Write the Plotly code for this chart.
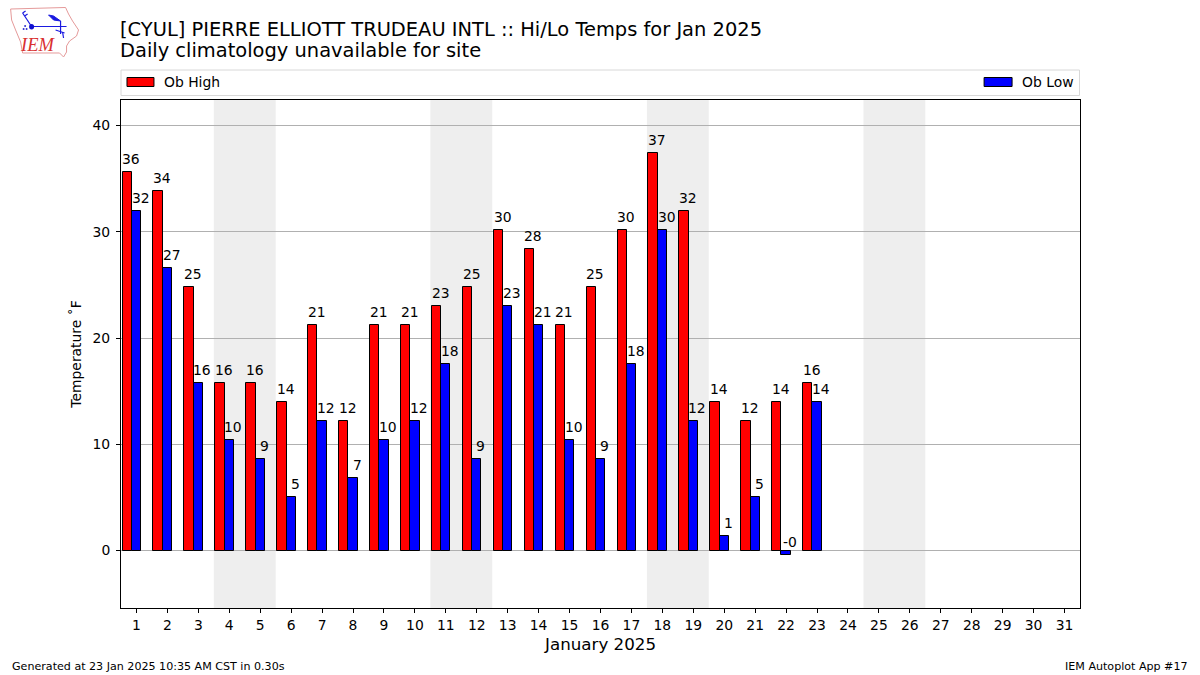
import plotly.graph_objects as go

days = list(range(1, 24))
ob_high = [35.6, 33.8, 24.8, 15.8, 15.8, 14.0, 21.2, 12.2, 21.2, 21.2, 23.0, 24.8,
           30.2, 28.4, 21.2, 24.8, 30.2, 37.4, 32.0, 14.0, 12.2, 14.0, 15.8]
ob_low = [32.0, 26.6, 15.8, 10.4, 8.6, 5.0, 12.2, 6.8, 10.4, 12.2, 17.6, 8.6,
          23.0, 21.2, 10.4, 8.6, 17.6, 30.2, 12.2, 1.4, 5.0, -0.4, 14.0]
high_labels = ["36", "34", "25", "16", "16", "14", "21", "12", "21", "21", "23", "25",
               "30", "28", "21", "25", "30", "37", "32", "14", "12", "14", "16"]
low_labels = ["32", "27", "16", "10", "9", "5", "12", "7", "10", "12", "18", "9",
              "23", "21", "10", "9", "18", "30", "12", "1", "5", "-0", "14"]
weekends = [(3.5, 5.5), (10.5, 12.5), (17.5, 19.5), (24.5, 26.5)]
all_days = list(range(1, 32))

W, H = 1200, 675
L, R, T, B = 120.5, 1080.5, 100, 608
FONT = "DejaVu Sans"
BAR_W = 0.3


def py(y):
    return (B - y) / (B - T)


def fx(x):
    return (x - L) / (R - L)


def path(points, close=False):
    s = "M " + " L ".join(f"{fx(x):.5f},{py(y):.5f}" for x, y in points)
    return s + (" Z" if close else "")


fig = go.Figure()
fig.add_bar(x=[d - BAR_W for d in days], y=ob_high, width=BAR_W, name="Ob High",
            marker=dict(color="#ff0000", line=dict(color="black", width=1)), showlegend=False,
            hoverinfo="y")
fig.add_bar(x=days, y=ob_low, width=BAR_W, name="Ob Low",
            marker=dict(color="#0000ff", line=dict(color="black", width=1)), showlegend=False,
            hoverinfo="y")

shapes = []
for a, b in weekends:
    shapes.append(dict(type="rect", xref="x", yref="paper", x0=a, x1=b, y0=0, y1=1,
                       fillcolor="#eeeeee", line_width=0, layer="below"))

# legend frame and swatches (the reference spreads its two entries to the far ends)
paper = dict(xref="paper", yref="paper")
shapes.append(dict(type="rect", **paper, x0=fx(120.5), x1=fx(1080), y0=py(95.5), y1=py(70),
                   line=dict(color="#d8d8d8", width=1), fillcolor="white"))
shapes.append(dict(type="rect", **paper, x0=fx(126.5), x1=fx(153.5), y0=py(86.5), y1=py(77.5),
                   line=dict(color="black", width=1), fillcolor="#ff0000"))
shapes.append(dict(type="rect", **paper, x0=fx(984.5), x1=fx(1012.5), y0=py(86.5), y1=py(77.5),
                   line=dict(color="black", width=1), fillcolor="#0000ff"))

# logo
outline = [(10, 9), (65, 7.5), (68, 14), (72, 21), (78, 30), (76, 36), (69, 41), (66, 46),
           (66, 52), (63, 57), (59, 53), (22, 53), (20, 42), (15, 30), (11, 20)]
shapes.append(dict(type="path", **paper, path=path(outline, True),
                   line=dict(color="#e59a9a", width=1), fillcolor="white"))
blue_lines = [
    [(31, 26.5), (66, 26.5)], [(31, 26.5), (22, 13)], [(22, 13), (25, 11)], [(24, 16), (27, 14)],
    [(60, 21), (60, 34)], [(55, 30), (64, 33)], [(62, 32), (63, 38)],
]
for seg in blue_lines:
    shapes.append(dict(type="path", **paper, path=path(seg),
                       line=dict(color="#1a1ae0", width=1.2)))
shapes.append(dict(type="path", **paper, path=path([(48, 15), (53, 16), (60, 21), (53, 20)], True),
                   line=dict(color="#1a1ae0", width=1), fillcolor="#1a1ae0"))
shapes.append(dict(type="circle", **paper, x0=fx(28.5), x1=fx(33.5), y0=py(29.5), y1=py(24),
                   line_width=0, fillcolor="#1010d0"))
for cx, cy in [(23, 29), (26, 29), (24.5, 26)]:
    shapes.append(dict(type="circle", **paper, x0=fx(cx - 1), x1=fx(cx + 1), y0=py(cy + 1),
                       y1=py(cy - 1), line_width=0, fillcolor="#3030d0"))


def text(x, y, s, size, xanchor="left", yanchor="middle", color="black", family=FONT, **kw):
    nudge = {"left": -1.5, "right": 2, "center": 0}[xanchor]
    return dict(xref="paper", yref="paper", x=fx(x + nudge), y=py(y), text=s, showarrow=False,
                xanchor=xanchor, yanchor=yanchor, align="left",
                font=dict(family=family, size=size, color=color), borderpad=0, **kw)


annotations = []
for d, v, lab in zip(days, ob_high, high_labels):
    annotations.append(dict(x=d - 0.5 * BAR_W, y=v, xref="x", yref="y", text=lab, showarrow=False,
                            xanchor="center", yanchor="bottom", yshift=4, xshift=-0.5, borderpad=0,
                            font=dict(family=FONT, size=13.9, color="black")))
for d, v, lab in zip(days, ob_low, low_labels):
    annotations.append(dict(x=d + 0.5 * BAR_W, y=v, xref="x", yref="y", text=lab,
                            showarrow=False, xanchor="center", yanchor="bottom", yshift=4,
                            xshift=-0.5, borderpad=0,
                            font=dict(family=FONT, size=13.9, color="black")))

annotations += [
    text(120, 29, "[CYUL] PIERRE ELLIOTT TRUDEAU INTL :: Hi/Lo Temps for Jan 2025", 19.45),
    text(120, 51, "Daily climatology unavailable for site", 19.45),
    text(164, 82, "Ob High", 13.9),
    text(1022.5, 82, "Ob Low", 13.9),
    text(600, 644, "January 2025", 16.7, xanchor="center"),
    text(12, 666.5, "Generated at 23 Jan 2025 10:35 AM CST in 0.30s", 11.1),
    text(1188, 666.5, "IEM Autoplot App #17", 11.1, xanchor="right"),
    text(20, 45, "<i>IEM</i>", 18.5, color="#d93030", family="Liberation Serif"),
]

fig.update_layout(
    width=W, height=H, autosize=False,
    margin=dict(l=L, r=W - R, t=T, b=H - B, pad=0),
    paper_bgcolor="white", plot_bgcolor="white",
    barmode="overlay", bargap=0,
    font=dict(family=FONT, size=13.9, color="black"),
    shapes=shapes, annotations=annotations,
    xaxis=dict(range=[0.5, 31.5], tickmode="array", tickvals=all_days,
               ticktext=[str(d) for d in all_days], ticks="outside", ticklen=4, tickwidth=1,
               tickcolor="black", showgrid=False, zeroline=False, showline=True,
               linecolor="black", linewidth=1, mirror=True,
               tickfont=dict(family=FONT, size=13.9)),
    yaxis=dict(range=[-5.41, 42.4], tickvals=[0, 10, 20, 30, 40], ticks="outside", ticklen=4,
               tickwidth=1, tickcolor="black", showgrid=True, gridcolor="#b0b0b0", gridwidth=1,
               zeroline=False, showline=True, linecolor="black", linewidth=1, mirror=True,
               ticklabelstandoff=3, tickfont=dict(family=FONT, size=13.9),
               title=dict(text="Temperature ˚F", standoff=7,
                          font=dict(family=FONT, size=13.9))),
)
fig.write_html("out.html", config={"displayModeBar": False},
               post_script="document.body.style.margin='0';")
